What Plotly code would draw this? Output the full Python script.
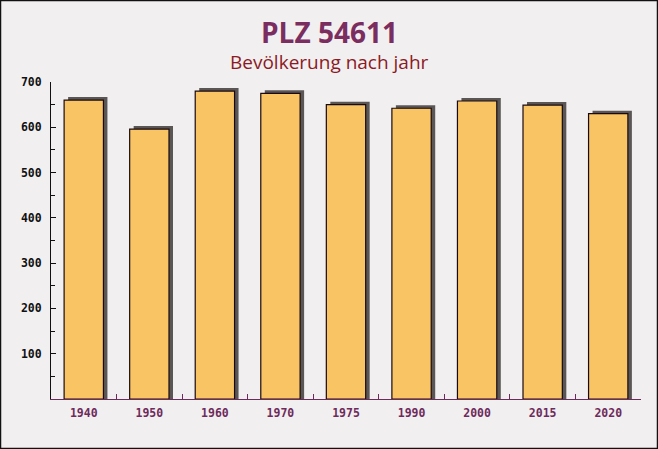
import plotly.graph_objects as go

years = ["1940", "1950", "1960", "1970", "1975", "1990", "2000", "2015", "2020"]
population = [660, 596, 680, 675, 650, 642, 658, 649, 630]

title_text = "PLZ 54611"
subtitle_text = "Bevölkerung nach jahr"

W, H = 658, 449
ml, mr, mt, mb = 51, 17, 82, 50
pw, ph = W - ml - mr, H - mt - mb
ymax = 700
units_per_px = ymax / ph
cat_px = pw / len(years)

bar_w = 0.6
shadow_dx = 4 / cat_px
shadow_dy = 3 * units_per_px

fig = go.Figure()
fig.add_trace(go.Bar(
    x=years, y=[v + shadow_dy for v in population],
    width=bar_w, offset=-bar_w / 2 + shadow_dx,
    marker=dict(color="#5b5656", line=dict(width=0)),
    hoverinfo="skip", showlegend=False,
))
fig.add_trace(go.Bar(
    x=years, y=population,
    width=bar_w, offset=-bar_w / 2,
    marker=dict(color="#f9c463", line=dict(color="#1a0a10", width=1.2)),
    showlegend=False,
))

fig.update_layout(
    width=W, height=H,
    margin=dict(l=ml, r=mr, t=mt, b=mb),
    barmode="overlay",
    paper_bgcolor="#f2eff1",
    plot_bgcolor="rgba(0,0,0,0)",
    xaxis=dict(
        type="category", showgrid=False, showline=True, linecolor="#6d2b5b", linewidth=1,
        ticks="inside", tickson="boundaries", ticklen=5, tickcolor="#6d2b5b",
        tickfont=dict(family="DejaVu Sans Mono", size=11.5, color="#6d2b5b", weight="bold"),
        ticklabelstandoff=3,
        zeroline=False, fixedrange=True,
    ),
    yaxis=dict(
        range=[0, ymax], showgrid=False, showline=True, linecolor="#111111", linewidth=1,
        ticks="inside", ticklen=5, tickcolor="#111111",
        minor=dict(dtick=50, ticks="inside", ticklen=4, tickcolor="#111111"),
        tickfont=dict(family="DejaVu Sans Mono", size=11.5, color="#111111", weight="bold"),
        tickvals=[100, 200, 300, 400, 500, 600, 700],
        ticklabelstandoff=6,
        zeroline=False, fixedrange=True,
    ),
    annotations=[
        dict(text=title_text, xref="paper", yref="paper",
             x=(329 - ml) / pw, y=(H - mb - 32) / ph, xanchor="center", yanchor="middle",
             showarrow=False,
             font=dict(family="Open Sans", size=28, color="#7a2d5e", weight="bold")),
        dict(text=subtitle_text, xref="paper", yref="paper",
             x=(329 - ml) / pw, y=(H - mb - 62) / ph, xanchor="center", yanchor="middle",
             showarrow=False,
             font=dict(family="Open Sans", size=19, color="#8b1a24")),
    ],
    shapes=[
        dict(type="rect", xref="paper", yref="paper",
             x0=-(ml - 0.5) / pw, x1=1 + (mr - 0.5) / pw,
             y0=-(mb - 0.5) / ph, y1=1 + (mt - 0.5) / ph,
             line=dict(color="#111111", width=1.5), fillcolor="rgba(0,0,0,0)", layer="above"),
    ],
)

fig.write_html("out.html")
